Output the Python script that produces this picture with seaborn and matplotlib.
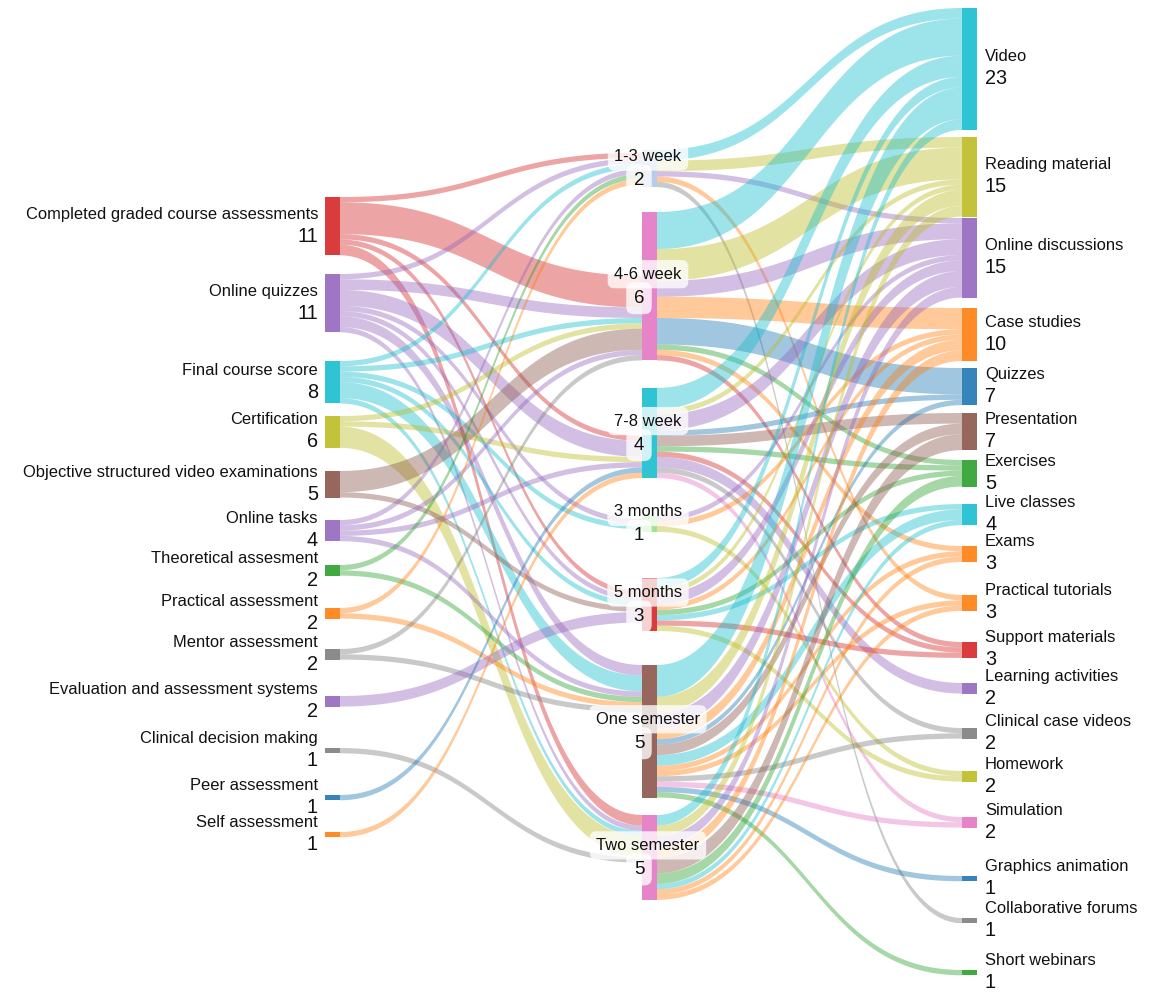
import numpy as np
import matplotlib
matplotlib.use("Agg")
import matplotlib.pyplot as plt
from matplotlib.patches import Polygon, Rectangle
import seaborn as sns

# ---------------- data ----------------
left_labels = ["Completed graded course assessments", "Online quizzes", "Final course score",
               "Certification", "Objective structured video examinations", "Online tasks",
               "Theoretical assesment", "Practical assessment", "Mentor assessment",
               "Evaluation and assessment systems", "Clinical decision making",
               "Peer assessment", "Self assessment"]
left_values = [11, 11, 8, 6, 5, 4, 2, 2, 2, 2, 1, 1, 1]

mid_labels = ["1-3 week", "4-6 week", "7-8 week", "3 months", "5 months",
              "One semester", "Two semester"]
mid_counts = [2, 6, 4, 1, 3, 5, 5]

right_labels = ["Video", "Reading material", "Online discussions", "Case studies", "Quizzes",
                "Presentation", "Exercises", "Live classes", "Exams", "Practical tutorials",
                "Support materials", "Learning activities", "Clinical case videos", "Homework",
                "Simulation", "Graphics animation", "Collaborative forums", "Short webinars"]
right_values = [23, 15, 15, 10, 7, 7, 5, 4, 3, 3, 3, 2, 2, 2, 2, 1, 1, 1]

# links: assessment -> duration
lm_source = (["Completed graded course assessments"] * 5 + ["Online quizzes"] * 7 +
             ["Final course score"] * 6 + ["Certification"] * 3 +
             ["Objective structured video examinations"] * 2 + ["Online tasks"] * 4 +
             ["Theoretical assesment"] * 2 + ["Practical assessment"] * 2 +
             ["Mentor assessment"] * 2 + ["Evaluation and assessment systems",
             "Clinical decision making", "Peer assessment", "Self assessment"])
lm_target = ["1-3 week", "4-6 week", "7-8 week", "5 months", "Two semester",
             "1-3 week", "4-6 week", "7-8 week", "3 months", "5 months", "One semester", "Two semester",
             "1-3 week", "4-6 week", "3 months", "5 months", "One semester", "Two semester",
             "4-6 week", "7-8 week", "Two semester",
             "4-6 week", "5 months",
             "1-3 week", "4-6 week", "7-8 week", "One semester",
             "1-3 week", "One semester",
             "1-3 week", "One semester",
             "4-6 week", "One semester",
             "5 months", "Two semester", "7-8 week", "7-8 week"]
lm_value = [1, 6, 1, 1, 2,
            1, 2, 3, 1, 1, 2, 1,
            1, 1, 1, 1, 3, 1,
            1, 1, 4,
            4, 1,
            1, 1, 1, 1,
            1, 1,
            1, 1,
            1, 1,
            2, 1, 1, 1]

# links: duration -> content
mr_source = (["1-3 week"] * 5 + ["4-6 week"] * 8 + ["7-8 week"] * 10 + ["3 months"] * 3 +
             ["5 months"] * 8 + ["One semester"] * 13 + ["Two semester"] * 9)
mr_target = ["Video", "Reading material", "Online discussions", "Practical tutorials", "Collaborative forums",
             "Video", "Reading material", "Online discussions", "Case studies", "Quizzes", "Exercises",
             "Exams", "Support materials",
             "Video", "Reading material", "Online discussions", "Quizzes", "Presentation", "Exercises",
             "Support materials", "Learning activities", "Clinical case videos", "Simulation",
             "Online discussions", "Case studies", "Homework",
             "Video", "Reading material", "Online discussions", "Case studies", "Exercises",
             "Live classes", "Support materials", "Homework",
             "Video", "Reading material", "Online discussions", "Case studies", "Quizzes", "Presentation",
             "Live classes", "Exams", "Practical tutorials", "Clinical case videos", "Simulation",
             "Graphics animation", "Short webinars",
             "Video", "Reading material", "Online discussions", "Case studies", "Presentation",
             "Exercises", "Live classes", "Exams", "Practical tutorials"]
mr_value = [2, 2, 1, 1, 1,
            7, 6, 3, 4, 5, 1, 1, 1,
            4, 1, 3, 1, 2, 1, 1, 2, 1, 1,
            1, 1, 1,
            2, 1, 2, 1, 1, 1, 1, 1,
            6, 3, 3, 2, 1, 2, 2, 1, 1, 1, 1, 1, 1,
            2, 2, 2, 2, 3, 2, 1, 1, 1]

# ---------------- styling / layout ----------------
sns.set_theme(style="white")
plt.rcParams["font.family"] = ["Liberation Sans", "DejaVu Sans"]
pal = sns.color_palette("tab10")
C = {"blue": pal[0], "orange": pal[1], "green": pal[2], "red": pal[3], "purple": pal[4],
     "brown": pal[5], "pink": pal[6], "gray": pal[7], "olive": pal[8], "cyan": pal[9],
     "lightblue": sns.color_palette("tab20")[1], "lightgreen": sns.color_palette("tab20")[5]}

left_colors = ["red", "purple", "cyan", "olive", "brown", "purple", "green", "orange", "gray",
               "purple", "gray", "blue", "orange"]
mid_colors = ["lightblue", "pink", "cyan", "lightgreen", "red", "brown", "pink"]
right_colors = ["cyan", "olive", "purple", "orange", "blue", "brown", "green", "cyan", "orange",
                "orange", "red", "purple", "gray", "olive", "pink", "blue", "gray", "green"]

left_top = [197, 274, 361, 416, 471, 520, 565, 608, 649, 696, 748, 795, 832]
mid_top = [150, 212, 388, 516, 578, 665, 815]
mid_in_align = [0.5, 1.0, 1.0, 0.5, 0.6, 0.0, 0.0]
right_top = [8, 137, 218, 308, 368, 413, 460, 504, 546, 595, 642, 683, 728, 771, 817, 876, 918, 970]

col_x = [325, 642, 962]
node_w = 15
scale = 5.3  # px per unit
W, H = 1157, 998

fig = plt.figure(figsize=(W / 100, H / 100), dpi=100)
ax = fig.add_axes([0, 0, 1, 1])
ax.set_xlim(0, W)
ax.set_ylim(H, 0)
ax.axis("off")

# ---------------- build nodes ----------------
nodes = {}
def add_nodes(labels, tops, colors, col):
    for lab, top, c in zip(labels, tops, colors):
        nodes[lab] = dict(col=col, x=col_x[col], top=top, color=C[c], inn=0, out=0)

add_nodes(left_labels, left_top, left_colors, 0)
add_nodes(mid_labels, mid_top, mid_colors, 1)
add_nodes(right_labels, right_top, right_colors, 2)

links = []
for s, t, v in zip(lm_source, lm_target, lm_value):
    links.append(dict(s=s, t=t, v=v, color=nodes[s]["color"]))
for s, t, v in zip(mr_source, mr_target, mr_value):
    links.append(dict(s=s, t=t, v=v, color=nodes[t]["color"]))
for l in links:
    nodes[l["s"]]["out"] += l["v"]
    nodes[l["t"]]["inn"] += l["v"]
for n in nodes.values():
    n["h"] = max(n["inn"], n["out"]) * scale
    n["c"] = n["top"] + n["h"] / 2

align = dict(zip(mid_labels, mid_in_align))
for name, n in nodes.items():
    outs = sorted([l for l in links if l["s"] == name], key=lambda l: nodes[l["t"]]["c"])
    y = n["top"]
    for l in outs:
        l["sy0"] = y
        y += l["v"] * scale
        l["sy1"] = y
    ins = sorted([l for l in links if l["t"] == name], key=lambda l: nodes[l["s"]]["c"])
    slack = n["h"] - n["inn"] * scale
    y = n["top"] + slack * align.get(name, 0.0)
    for l in ins:
        l["ty0"] = y
        y += l["v"] * scale
        l["ty1"] = y

# ---------------- draw links ----------------
t = np.linspace(0, 1, 80)
sm = 3 * t ** 2 - 2 * t ** 3
for l in links:
    x0 = nodes[l["s"]]["x"] + node_w
    x1 = nodes[l["t"]]["x"]
    xm = (x0 + x1) / 2
    xs = (1 - t) ** 3 * x0 + 3 * (1 - t) ** 2 * t * xm + 3 * (1 - t) * t ** 2 * xm + t ** 3 * x1
    ytop = l["sy0"] + (l["ty0"] - l["sy0"]) * sm
    ybot = l["sy1"] + (l["ty1"] - l["sy1"]) * sm
    pts = np.concatenate([np.column_stack([xs, ytop]), np.column_stack([xs[::-1], ybot[::-1]])])
    ax.add_patch(Polygon(pts, closed=True, facecolor=l["color"], edgecolor="none",
                         alpha=0.42, zorder=1))

# ---------------- draw nodes ----------------
for name, n in nodes.items():
    ax.add_patch(Rectangle((n["x"], n["top"]), node_w, n["h"], facecolor=n["color"],
                           edgecolor="none", alpha=0.9, zorder=3))

# ---------------- labels ----------------
txt = "#111111"
for lab, val in zip(left_labels, left_values):
    n = nodes[lab]
    ax.text(318, n["c"] - 12, lab, ha="right", va="center", fontsize=11.9, color=txt, zorder=5)
    ax.text(318, n["c"] + 10, str(val), ha="right", va="center", fontsize=14.3, color=txt, zorder=5)

for lab, val in zip(right_labels, right_values):
    n = nodes[lab]
    ax.text(985, n["c"] - 12, lab, ha="left", va="center", fontsize=11.9, color=txt, zorder=5)
    ax.text(985, n["c"] + 10, str(val), ha="left", va="center", fontsize=14.3, color=txt, zorder=5)

for lab, cnt in zip(mid_labels, mid_counts):
    n = nodes[lab]
    ax.text(648, n["c"] - 12, lab, ha="center", va="center", fontsize=11.9, color=txt,
            bbox=dict(boxstyle="round,pad=0.4", fc="white", ec="none", alpha=0.78), zorder=6)
    ax.text(639, n["c"] + 12, str(cnt), ha="center", va="center", fontsize=13.5, color=txt,
            bbox=dict(boxstyle="round,pad=0.4", fc="white", ec="none", alpha=0.78), zorder=6)

fig.savefig("out.png", dpi=100, facecolor="white")
